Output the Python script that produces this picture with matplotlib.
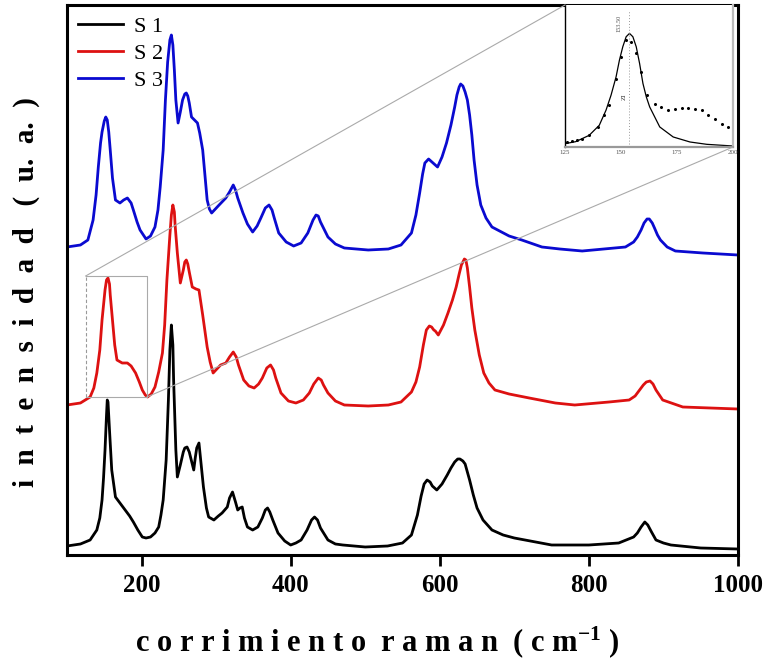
import matplotlib
matplotlib.use("Agg")
import matplotlib.pyplot as plt

# Raman spectra (wavenumber in cm^-1, intensity in arbitrary units, stacked)
s1_x = [100, 118, 131, 140, 144, 147, 149, 151, 153, 154, 155, 157, 160, 165, 172, 178, 184, 189,
        195, 201, 206, 212, 218, 223, 226, 229, 233, 236, 238, 240, 242, 243, 246, 248, 252, 256,
        258, 261, 264, 266, 270, 272, 274, 277, 280, 283, 287, 290, 297, 303, 308, 315, 318, 322,
        326, 329, 332, 335, 338, 342, 349, 356, 362, 366, 369, 372, 376, 383, 392, 400, 407, 414,
        422, 428, 432, 436, 440, 450, 460, 470, 500, 530, 550, 562, 570, 575, 579, 583, 587, 590,
        596, 603, 610, 615, 620, 624, 627, 631, 634, 640, 645, 650, 658, 670, 685, 700, 750, 800,
        840, 860, 865, 870, 875, 879, 884, 890, 900, 910, 950, 1000]
s1_px = [546, 544, 540, 530, 518, 500, 478, 450, 415, 400, 402, 430, 470, 497, 504, 510, 516, 522,
         530, 537, 538, 537, 533, 527, 515, 500, 460, 400, 350, 325, 345, 380, 450, 477, 465, 452,
         448, 447, 452, 458, 470, 458, 448, 443, 465, 487, 508, 517, 520, 516, 513, 507, 498, 492,
         502, 510, 508, 507, 518, 527, 530, 527, 518, 510, 508, 512, 520, 533, 541, 545, 543, 540,
         530, 520, 517, 520, 528, 540, 544, 545, 547, 546, 543, 535, 515, 496, 484, 480, 482, 486,
         490, 484, 475, 468, 462, 459, 459, 461, 464, 480, 495, 508, 520, 530, 535, 538, 545, 545,
         543, 537, 533, 527, 522, 525, 532, 540, 543, 545, 548, 549]

s2_x = [100, 118, 131, 136, 140, 144, 147, 151, 153, 155, 157, 158, 161, 164, 167, 174, 181, 186,
        192, 197, 201, 205, 208, 213, 218, 223, 228, 231, 234, 238, 240, 242, 244, 245, 248, 252,
        256, 258, 260, 262, 264, 268, 273, 277, 282, 288, 292, 296, 301, 306, 313, 318, 323, 327,
        330, 337, 344, 351, 357, 362, 368, 373, 377, 380, 387, 397, 407, 417, 425, 431, 437, 441,
        444, 450, 460, 472, 504, 531, 548, 562, 568, 573, 578, 582, 586, 589, 592, 594, 598, 605,
        611, 617, 622, 626, 629, 633, 635, 637, 640, 643, 647, 653, 659, 666, 674, 693, 720, 755,
        781, 827, 854, 862, 868, 873, 877, 882, 886, 890, 899, 926, 1000]
s2_px = [405, 403, 397, 388, 373, 350, 320, 290, 280, 278, 284, 295, 320, 345, 360, 363, 363, 366,
         373, 382, 390, 395, 397, 394, 387, 372, 353, 325, 280, 235, 215, 205, 212, 225, 253, 283,
         270, 262, 260, 264, 272, 287, 289, 290, 315, 347, 362, 373, 369, 365, 363, 357, 352, 357,
         365, 380, 386, 388, 384, 378, 368, 365, 370, 378, 393, 401, 403, 400, 393, 384, 378, 380,
         385, 393, 401, 405, 406, 405, 402, 392, 382, 367, 345, 330, 326, 327, 330, 331, 335, 325,
         313, 300, 287, 274, 265, 259, 260, 268, 287, 308, 330, 355, 373, 383, 390, 394, 398, 403,
         405, 402, 400, 396, 390, 385, 382, 381, 384, 390, 400, 407, 409]

s3_x = [100, 118, 128, 135, 139, 142, 145, 147, 150, 152, 154, 156, 158, 161, 165, 171, 176, 181,
        186, 189, 194, 198, 206, 212, 218, 222, 225, 229, 232, 235, 238, 240, 242, 244, 246, 249,
        252, 255, 258, 260, 262, 264, 267, 271, 275, 278, 282, 288, 291, 294, 299, 304, 313, 318,
        323, 326, 329, 336, 342, 349, 355, 360, 366, 371, 375, 378, 384, 394, 404, 414, 423, 430,
        434, 437, 440, 450, 460, 472, 504, 531, 548, 562, 568, 573, 577, 580, 585, 591, 597, 603,
        609, 615, 620, 623, 626, 628, 631, 634, 637, 640, 643, 646, 650, 655, 662, 670, 693, 710,
        737, 761, 791, 849, 860, 865, 870, 874, 878, 881, 885, 888, 892, 896, 905, 916, 953, 1000]
s3_px = [247, 245, 240, 220, 195, 167, 143, 132, 121, 117, 120, 132, 150, 178, 200, 203, 200, 198,
         203, 210, 222, 230, 239, 236, 227, 210, 187, 150, 100, 62, 40, 35, 45, 70, 100, 123,
         112, 100, 94, 93, 96, 103, 117, 120, 123, 133, 150, 200, 209, 213, 209, 205, 198, 192,
         185, 190, 198, 213, 224, 232, 226, 218, 208, 205, 210, 218, 233, 242, 246, 243, 233, 220,
         215, 216, 222, 237, 244, 248, 250, 249, 245, 233, 215, 193, 174, 163, 159, 163, 167, 157,
         143, 125, 107, 95, 87, 84, 86, 92, 100, 115, 135, 160, 185, 205, 218, 227, 236, 240,
         247, 249, 251, 247, 242, 237, 230, 223, 219, 219, 223, 228, 235, 240, 247, 251, 253, 255]

# intensity values measured downward from the top of the frame -> convert to height
BASE = 555
s1_y = [BASE - v for v in s1_px]
s2_y = [BASE - v for v in s2_px]
s3_y = [BASE - v for v in s3_px]

series_labels = ["S 1", "S 2", "S 3"]
series_colors = ["#000000", "#dd1111", "#0a0ad0"]

# inset: Lorentzian fit of the ~153 cm^-1 band and measured points
fit_x = [125, 129.8, 135.8, 140.3, 143.3, 145.55, 147.8, 149.3, 150.8, 152.3, 153.8, 155.3, 156.8,
         158.3, 159.8, 161.3, 162.8, 165.05, 167.3, 170.3, 173.3, 180.8, 188.3, 200]
fit_y = [10, 16, 35, 65, 110, 155, 210, 260, 300, 330, 340, 330, 300, 250, 190, 150, 120, 90, 60,
         45, 30, 15, 8, 3]
pts_x = [126.05, 128.3, 130.55, 132.8, 135.8, 139.55, 142.55, 144.8, 147.8, 150.05, 152.3, 154.55,
         156.8, 159.05, 161.6, 165.05, 168.05, 171.05, 174.05, 177.05, 180.05, 183.05, 186.05,
         189.05, 192.05, 195.05, 197.6]
pts_y = [15, 17, 20, 25, 35, 60, 95, 125, 205, 270, 320, 315, 280, 225, 155, 130, 120, 112, 115,
         118, 118, 115, 110, 95, 85, 70, 60]
peak_pos = 153.5
inset_ticks = [125, 150, 175, 200]
main_ticks = [200, 400, 600, 800, 1000]

plt.rcParams["mathtext.fontset"] = "custom"
plt.rcParams["mathtext.rm"] = "Liberation Serif:bold"
plt.rcParams["mathtext.it"] = "Liberation Serif:bold"
plt.rcParams["mathtext.bf"] = "Liberation Serif:bold"
plt.rcParams["mathtext.default"] = "rm"

W, H = 770, 661
fig = plt.figure(figsize=(W / 100, H / 100), dpi=100)
ax = fig.add_axes([67 / W, (H - 555) / H, (738 - 67) / W, (555 - 5) / H])

for xs, ys, lab, col in zip([s1_x, s2_x, s3_x], [s1_y, s2_y, s3_y], series_labels, series_colors):
    ax.plot(xs, ys, color=col, lw=2.0, label=lab, solid_joinstyle="round")

ax.set_xlim(100, 1000)
ax.set_ylim(0, 550)
ax.set_xticks(main_ticks)
ax.set_yticks([])
ax.tick_params(axis="x", direction="out", length=8, width=2, pad=6)
for lbl in ax.get_xticklabels():
    lbl.set_fontfamily("Liberation Serif")
    lbl.set_fontweight("bold")
    lbl.set_fontsize(18)
for sp in ax.spines.values():
    sp.set_linewidth(2.2)

ax.set_xlabel(r"c o r r i m i e n t o  r a m a n  ( c m$^{-1}$ )",
              fontfamily="Liberation Serif", fontweight="bold", fontsize=22)
ax.xaxis.set_label_coords(0.462, -0.125)
ax.set_ylabel("i  n  t  e  n  s  i  d  a  d   (  u.  a.  )",
              fontfamily="Liberation Serif", fontweight="bold", fontsize=21)
ax.yaxis.set_label_coords(-0.04, 0.478)

leg = ax.legend(loc="upper left", frameon=False,
                prop={"family": "Liberation Serif", "size": 16},
                handlelength=2.0, handletextpad=0.5, labelspacing=0.3,
                borderaxespad=0.2, borderpad=0.3)

# zoom rectangle around the first band of S 2
zx0, zx1 = 125, 207
zy0, zy1 = BASE - 397, BASE - 276
ax.plot([zx0, zx0], [zy0, zy1], color="#999999", lw=0.8, ls=(0, (3, 2)))
ax.plot([zx0, zx1, zx1, zx0], [zy1, zy1, zy0, zy0], color="#aaaaaa", lw=0.8)

# inset axes
ix0, ix1, iy0, iy1 = 565, 733, 5, 147
axin = fig.add_axes([ix0 / W, (H - iy1) / H, (ix1 - ix0) / W, (iy1 - iy0) / H])
axin.plot(fit_x, fit_y, color="black", lw=0.9)
axin.plot(pts_x, pts_y, ls="none", marker="o", ms=1.2, color="black")
axin.plot([peak_pos, peak_pos], [10, 410], color="#999999", lw=0.7, ls=(0, (1, 2)))
axin.text(peak_pos - 2.2, 150, "ZI", rotation=90, fontsize=5, ha="center", va="center",
          fontfamily="Liberation Serif", color="#333333")
axin.text(peak_pos - 4.2, 370, f"{peak_pos:.2f}", rotation=90, fontsize=4.5, ha="center",
          va="center", fontfamily="Liberation Serif", color="#555555")
axin.set_xlim(125, 200)
axin.set_ylim(0, 425)
axin.set_xticks(inset_ticks)
axin.set_yticks([])
axin.tick_params(axis="x", length=0, labelsize=5, pad=2, labelcolor="#555555")
for lbl in axin.get_xticklabels():
    lbl.set_fontfamily("Liberation Serif")
axin.spines["top"].set_visible(False)
axin.spines["left"].set_linewidth(1.0)
axin.spines["bottom"].set_color("#999999")
axin.spines["bottom"].set_linewidth(1.6)
axin.spines["right"].set_color("#bbbbbb")
axin.spines["right"].set_linewidth(1.6)

# connector lines from the zoom rectangle to the inset (figure coordinates)
def data_to_fig(x, y):
    px, py = ax.transData.transform((x, y))
    return fig.transFigure.inverted().transform((px, py))

a = data_to_fig(zx0, zy1)
b = data_to_fig(zx1, zy0)
c = (ix0 / W, (H - iy0) / H)
d = (ix1 / W, (H - iy1) / H)
fig.lines.append(plt.Line2D([a[0], c[0]], [a[1], c[1]], transform=fig.transFigure,
                            color="#aaaaaa", lw=0.8))
fig.lines.append(plt.Line2D([b[0], d[0]], [b[1], d[1]], transform=fig.transFigure,
                            color="#aaaaaa", lw=0.8))

fig.savefig("out.png", dpi=100)
